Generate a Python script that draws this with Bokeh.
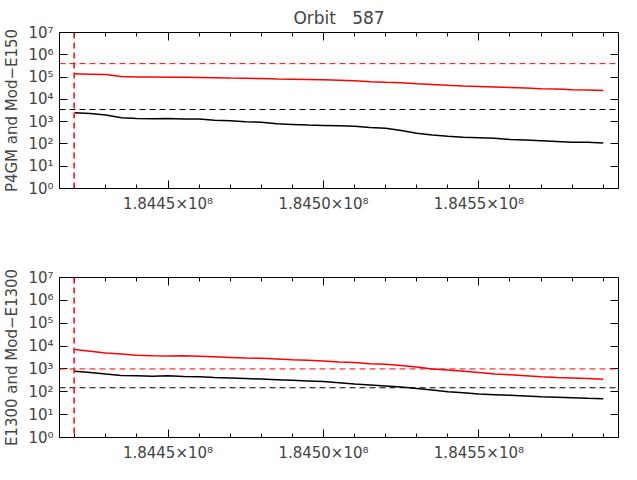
from bokeh.plotting import figure
from bokeh.models import FixedTicker, LogAxis, LinearAxis, Span, Range1d
from bokeh.layouts import column
from bokeh.embed import file_html
from bokeh.resources import INLINE

x_start = 1.84420e8
x_step = 5000
top_red = [1.4e5,1.35e5,1.3e5,1.05e5,1.0e5,1.0e5,0.98e5,0.97e5,0.95e5,0.93e5,0.9e5,0.88e5,0.86e5,0.82e5,0.8e5,0.78e5,0.75e5,0.72e5,0.68e5,0.62e5,0.58e5,0.55e5,0.5e5,0.47e5,0.43e5,0.4e5,0.38e5,0.36e5,0.34e5,0.32e5,0.3e5,0.29e5,0.27e5,0.26e5,0.25e5]
top_black = [2.5e3,2.3e3,2.0e3,1.5e3,1.4e3,1.35e3,1.4e3,1.3e3,1.3e3,1.15e3,1.1e3,1.0e3,0.95e3,0.8e3,0.75e3,0.7e3,0.68e3,0.65e3,0.62e3,0.55e3,0.5e3,0.4e3,0.3e3,0.25e3,0.22e3,0.2e3,0.19e3,0.18e3,0.16e3,0.15e3,0.14e3,0.13e3,0.12e3,0.12e3,0.11e3]
bot_red = [7e3,6e3,5e3,4.5e3,4e3,3.8e3,3.7e3,3.8e3,3.6e3,3.4e3,3.2e3,3.0e3,2.9e3,2.7e3,2.5e3,2.4e3,2.2e3,2.0e3,1.9e3,1.7e3,1.6e3,1.4e3,1.2e3,1.0e3,0.9e3,0.8e3,0.7e3,0.6e3,0.55e3,0.5e3,0.45e3,0.42e3,0.4e3,0.38e3,0.35e3]
bot_black = [800,700,600,520,500,480,500,470,450,420,400,380,360,340,320,300,280,250,220,200,180,160,140,120,100,90,80,75,70,65,60,58,55,52,50]
x = [x_start + i * x_step for i in range(len(top_red))]

top_thresh_red, top_thresh_black = 4e5, 3.5e3
bot_thresh_red, bot_thresh_black = 1e3, 150
orbit_start = 1.844198e8
x_ticks = [1.8445e8, 1.8450e8, 1.8455e8]
x_labels = ["1.8445×10⁸", "1.8450×10⁸", "1.8455×10⁸"]
y_ticks = [1, 10, 100, 1e3, 1e4, 1e5, 1e6, 1e7]
y_labels = ["10⁰", "10¹", "10²", "10³", "10⁴", "10⁵", "10⁶", "10⁷"]
minor_x = [1.8442e8 + i * 1e4 for i in range(18)]
FONT = "DejaVu Sans"

def make(ylabel, red, black, tr, tb, title, top_b, bot_b):
    p = figure(width=621, height=232, y_axis_type="log", output_backend="svg",
               toolbar_location=None, x_range=Range1d(1.844151e8, 1.845949e8),
               y_range=Range1d(1, 1e7), min_border_left=57, min_border_right=3,
               min_border_top=top_b, min_border_bottom=bot_b, title=title)
    p.grid.visible = False
    p.outline_line_color = "black"
    p.title.align = "center"
    p.title.text_font = FONT
    p.title.text_font_style = "normal"
    p.title.text_font_size = "17px"
    p.xaxis.ticker = FixedTicker(ticks=x_ticks, minor_ticks=minor_x)
    p.xaxis.major_label_overrides = dict(zip(x_ticks, x_labels))
    p.yaxis.ticker = FixedTicker(ticks=y_ticks)
    p.yaxis.major_label_overrides = dict(zip(y_ticks, y_labels))
    p.yaxis.axis_label = ylabel
    for ax in p.xaxis + p.yaxis:
        ax.major_tick_in = 8; ax.major_tick_out = 0
        ax.minor_tick_in = 4; ax.minor_tick_out = 0
        ax.major_label_text_font = FONT
        ax.major_label_text_font_size = "15px"
        ax.major_label_standoff = 6
        ax.axis_label_text_font = FONT
        ax.axis_label_text_font_style = "normal"
        ax.axis_label_text_font_size = "15px"
        ax.axis_label_standoff = 4
        ax.axis_line_color = None
    r = LogAxis(ticker=FixedTicker(ticks=y_ticks), major_label_overrides={t: "" for t in y_ticks},
                major_tick_in=8, major_tick_out=0, minor_tick_out=0, axis_line_color=None)
    a = LinearAxis(ticker=FixedTicker(ticks=x_ticks, minor_ticks=minor_x),
                   major_label_overrides={t: "" for t in x_ticks},
                   major_tick_in=8, major_tick_out=0, minor_tick_in=4, minor_tick_out=0, axis_line_color=None)
    p.add_layout(r, "right")
    p.add_layout(a, "above")
    p.line(x, red, color="red", line_width=1.5)
    p.line(x, black, color="black", line_width=1.5)
    p.add_layout(Span(location=tr, dimension="width", line_color="red", line_dash="6 4"))
    p.add_layout(Span(location=tb, dimension="width", line_color="black", line_dash="6 4"))
    p.add_layout(Span(location=orbit_start, dimension="height", line_color="red", line_dash="6 4", line_width=1.5))
    return p

p1 = make("P4GM and Mod−E150", top_red, top_black, top_thresh_red, top_thresh_black, "Orbit\u00a0\u00a0\u00a0587", 25, 44)
p2 = make("E1300 and Mod−E1300", bot_red, bot_black, bot_thresh_red, bot_thresh_black, "", 45, 24)
p = column(p1, p2)
open("out.html", "w").write(file_html(p, INLINE))
